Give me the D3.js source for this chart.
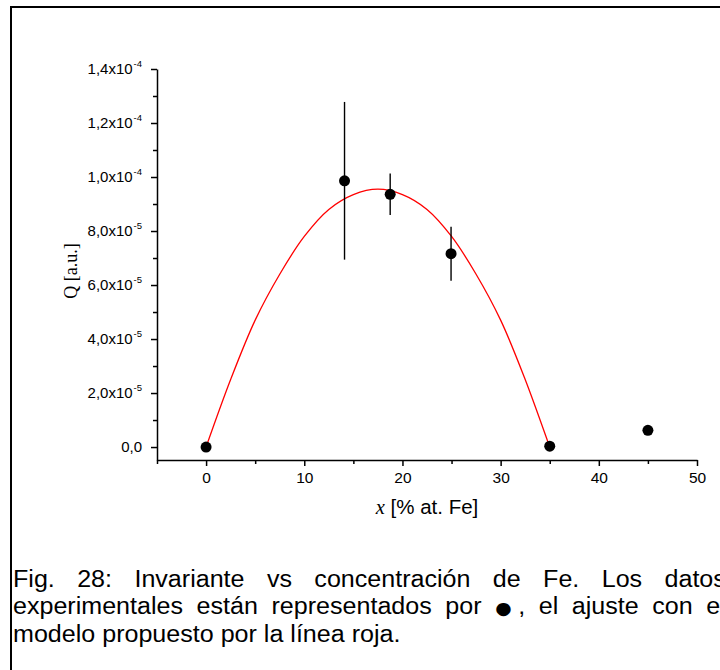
<!DOCTYPE html>
<html lang="es">
<head>
<meta charset="UTF-8">
<title>Invariante vs concentración de Fe</title>
<script src="https://d3js.org/d3.v7.min.js"></script>
<style>
  body { margin: 0; background: #fff; overflow: hidden; }
  #wrap { position: relative; width: 720px; height: 670px; overflow: hidden; }
  svg { position: absolute; left: 0; top: 0; }
  .caption {
    position: absolute;
    left: 13px;
    top: 566px;
    width: 654px;
    transform: scaleX(1.09);
    transform-origin: 0 0;
    font-family: "Liberation Sans", Arial, sans-serif;
    font-size: 23px;
    line-height: 26.5px;
    color: #000;
  }
  .caption div { text-align: justify; text-align-last: justify; white-space: nowrap; }
  .caption div.last { text-align-last: left; }
  .caption .dot { font-family: "DejaVu Sans", sans-serif; font-size: 0.75em; }
  .axis text { font-family: "Liberation Sans", Arial, sans-serif; fill: #000; }
  .axis path, .axis line { stroke: #000; stroke-width: 1.5px; }
</style>
</head>
<body>
<div id="wrap">
  <div class="caption" id="caption"></div>
</div>
<script>
  // measured points (x in % at. Fe, Q in a.u.)
  const xVals = [0, 14.1, 18.75, 24.95, 35, 45];
  const qVals = [0, 9.86e-5, 9.36e-5, 7.16e-5, 0.03e-5, 0.62e-5];
  const qErr  = [0, 2.92e-5, 0.77e-5, 1.0e-5, 0, 0];

  // fitted model curve
  const fitX = [0, 2.5, 5, 7.5, 10, 12.5, 15, 17.5, 20, 22.5, 25, 27.5, 30, 32.5, 35, 35.15];
  const fitQ = [0, 2.5e-5, 4.7e-5, 6.4e-5, 7.8e-5, 8.8e-5, 9.35e-5, 9.55e-5, 9.35e-5, 8.8e-5, 7.8e-5, 6.4e-5, 4.7e-5, 2.5e-5, 0, -0.15e-5];

  const xTicks = [0, 10, 20, 30, 40, 50];
  const xMinor = [-5, 5, 15, 25, 35, 45];
  const yTicks = [0, 2e-5, 4e-5, 6e-5, 8e-5, 1e-4, 1.2e-4, 1.4e-4];
  const yMinor = [1e-5, 3e-5, 5e-5, 7e-5, 9e-5, 1.1e-4, 1.3e-4];
  const yTickMant = ["0,0", "2,0x10", "4,0x10", "6,0x10", "8,0x10", "1,0x10", "1,2x10", "1,4x10"];
  const yTickExp  = ["", "-5", "-5", "-5", "-5", "-4", "-4", "-4"];

  // caption lines; "@" marks where the data symbol goes
  const captionLines = [
    "Fig. 28: Invariante vs concentración de Fe. Los datos",
    "experimentales están representados por @, el ajuste con el",
    "modelo propuesto por la línea roja."
  ];

  const W = 720, H = 670;
  const plot = { left: 157, right: 697, top: 69, bottom: 460 };

  const svg = d3.select('#wrap').insert('svg', '.caption')
    .attr('width', W)
    .attr('height', H);

  // page frame
  svg.append('path')
    .attr('d', `M11,${H + 5} V7 H${W + 5}`)
    .attr('fill', 'none')
    .attr('stroke', '#000')
    .attr('stroke-width', 2);

  const x = d3.scaleLinear().domain([-5, 50]).range([plot.left, plot.right]);
  const y = d3.scaleLinear().domain([-0.48e-5, 1.4e-4]).range([plot.bottom, plot.top]);

  // x axis
  const gx = svg.append('g')
    .attr('class', 'axis')
    .attr('transform', `translate(0,${plot.bottom})`)
    .call(d3.axisBottom(x).tickValues(xTicks).tickSize(6).tickSizeOuter(0).tickPadding(6));
  gx.selectAll('text').attr('font-size', 15.5);
  svg.append('g')
    .attr('class', 'axis')
    .attr('transform', `translate(0,${plot.bottom})`)
    .call(d3.axisBottom(x).tickValues(xMinor).tickSize(4).tickSizeOuter(0).tickFormat(''))
    .select('.domain').remove();

  // y axis
  const gy = svg.append('g')
    .attr('class', 'axis')
    .attr('transform', `translate(${plot.left},0)`)
    .call(d3.axisLeft(y).tickValues(yTicks).tickSize(6).tickSizeOuter(0).tickPadding(9)
      .tickFormat((d, i) => yTickMant[i]));
  gy.selectAll('text').attr('font-size', 15)
    .each(function(d, i) {
      if (yTickExp[i]) {
        d3.select(this).append('tspan')
          .attr('font-size', 9.5)
          .attr('dx', '0.1em')
          .attr('dy', '-0.75em')
          .text(yTickExp[i]);
      }
    });
  svg.append('g')
    .attr('class', 'axis')
    .attr('transform', `translate(${plot.left},0)`)
    .call(d3.axisLeft(y).tickValues(yMinor).tickSize(4).tickSizeOuter(0).tickFormat(''))
    .select('.domain').remove();

  // axis titles
  const xt = svg.append('text')
    .attr('x', 427)
    .attr('y', 514)
    .attr('text-anchor', 'middle')
    .attr('font-size', 20.5)
    .attr('font-family', '"Liberation Sans", Arial, sans-serif');
  xt.append('tspan')
    .attr('font-family', '"Liberation Serif", "Times New Roman", serif')
    .attr('font-style', 'italic')
    .text('x');
  xt.append('tspan').text(' [% at. Fe]');

  svg.append('text')
    .attr('transform', 'translate(77,271) rotate(-90)')
    .attr('text-anchor', 'middle')
    .attr('font-size', 18)
    .attr('font-family', '"Liberation Serif", "Times New Roman", serif')
    .text('Q [a.u.]');

  // fit curve
  const fit = fitX.map((v, i) => ({ x: v, q: fitQ[i] }));
  const line = d3.line()
    .x(d => x(d.x))
    .y(d => y(d.q))
    .curve(d3.curveCatmullRom);
  svg.append('path')
    .datum(fit)
    .attr('fill', 'none')
    .attr('stroke', '#ff0000')
    .attr('stroke-width', 1.3)
    .attr('d', line);

  // data with error bars
  const pts = xVals.map((v, i) => ({ x: v, q: qVals[i], e: qErr[i] }));
  svg.selectAll('line.err')
    .data(pts.filter(d => d.e > 0))
    .enter().append('line')
    .attr('class', 'err')
    .attr('x1', d => x(d.x))
    .attr('x2', d => x(d.x))
    .attr('y1', d => y(d.q + d.e))
    .attr('y2', d => y(d.q - d.e))
    .attr('stroke', '#000')
    .attr('stroke-width', 1.4);
  svg.selectAll('circle.pt')
    .data(pts)
    .enter().append('circle')
    .attr('class', 'pt')
    .attr('cx', d => x(d.x))
    .attr('cy', d => y(d.q))
    .attr('r', 5.5)
    .attr('fill', '#000');

  // caption
  d3.select('#caption').selectAll('div')
    .data(captionLines)
    .enter().append('div')
    .attr('class', (d, i) => i === captionLines.length - 1 ? 'last' : null)
    .each(function(d) {
      const div = d3.select(this);
      const parts = d.split('@');
      div.append('span').text(parts[0]);
      if (parts.length > 1) {
        div.append('span').attr('class', 'dot').text('\u25CF');
        div.append('span').text(parts[1]);
      }
    });
</script>
</body>
</html>
